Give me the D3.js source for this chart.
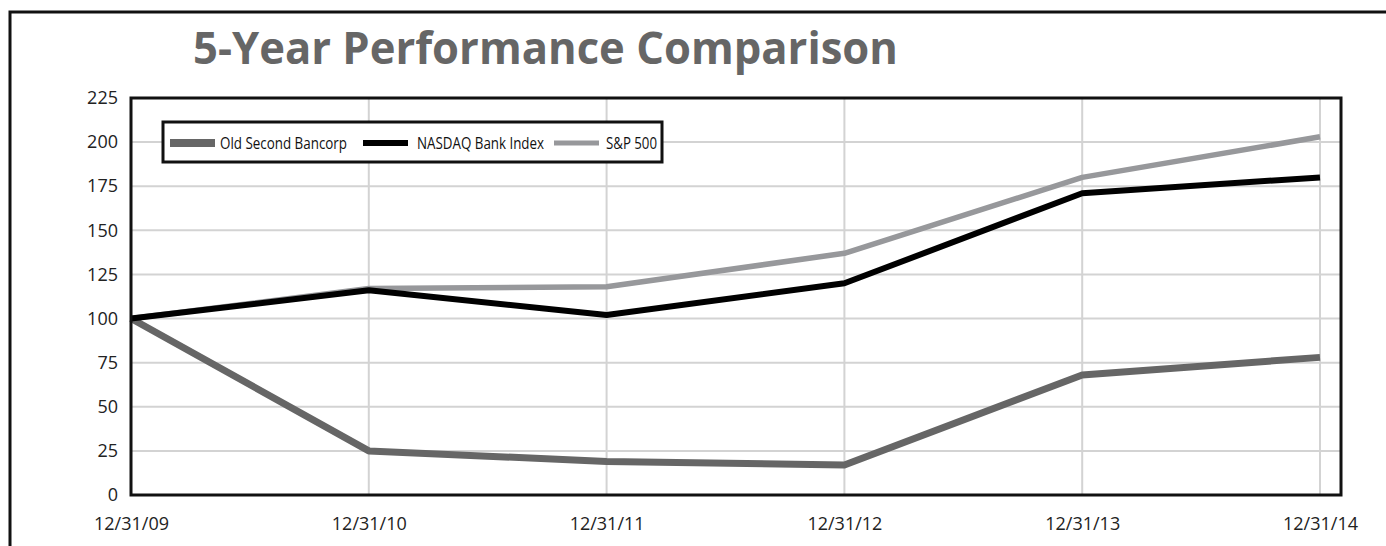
<!DOCTYPE html>
<html>
<head>
<meta charset="utf-8">
<script src="https://cdn.jsdelivr.net/npm/d3@7"></script>
<style>
  body { margin: 0; background: #fff; }
  svg { display: block; }
</style>
</head>
<body>
<div id="chart"></div>
<script>
// data
var dates = ["12/31/09", "12/31/10", "12/31/11", "12/31/12", "12/31/13", "12/31/14"];
var oldSecond = [100, 25, 19, 17, 68, 78];
var nasdaqBank = [100, 116, 102, 120, 171, 180];
var sp500 = [100, 117, 118, 137, 180, 203];
var yTicks = [0, 25, 50, 75, 100, 125, 150, 175, 200, 225];
var seriesNames = ["Old Second Bancorp", "NASDAQ Bank Index", "S&P 500"];

var W = 1386, H = 546;
var plot = { left: 131, right: 1341, top: 98, bottom: 495, lastX: 1320 };

var svg = d3.select("#chart")
  .append("svg")
    .attr("width", W)
    .attr("height", H);

// outer frame (cropped at right / bottom)
svg.append("path")
  .attr("d", "M10," + H + "V12H" + W)
  .attr("fill", "none")
  .attr("stroke", "#111")
  .attr("stroke-width", 3);

svg.append("text")
  .attr("x", 193)
  .attr("y", 64)
  .attr("textLength", 705)
  .attr("lengthAdjust", "spacingAndGlyphs")
  .style("font-family", "'Open Sans', sans-serif")
  .style("font-weight", "bold")
  .style("font-size", "44px")
  .style("fill", "#666")
  .text("5-Year Performance Comparison");

var x = d3.scalePoint()
  .domain(dates)
  .range([plot.left, plot.lastX]);

var y = d3.scaleLinear()
  .domain([0, 225])
  .range([plot.bottom, plot.top]);

// grid
svg.append("g")
  .selectAll("line")
  .data(yTicks.filter(function(d) { return d > 0 && d < 225; }))
  .enter()
  .append("line")
    .attr("x1", plot.left)
    .attr("x2", plot.right)
    .attr("y1", function(d) { return y(d); })
    .attr("y2", function(d) { return y(d); })
    .attr("stroke", "#d3d3d3")
    .attr("stroke-width", 2);

svg.append("g")
  .selectAll("line")
  .data(dates.slice(1))
  .enter()
  .append("line")
    .attr("x1", function(d) { return x(d); })
    .attr("x2", function(d) { return x(d); })
    .attr("y1", plot.top)
    .attr("y2", plot.bottom)
    .attr("stroke", "#d3d3d3")
    .attr("stroke-width", 2);

// axes
var yAxis = svg.append("g")
  .attr("transform", "translate(" + plot.left + ",0)")
  .call(d3.axisLeft(y).tickValues(yTicks).tickSize(0).tickPadding(13));
yAxis.select(".domain").remove();

var xAxis = svg.append("g")
  .attr("transform", "translate(0," + plot.bottom + ")")
  .call(d3.axisBottom(x).tickSize(0).tickPadding(22));
xAxis.select(".domain").remove();

svg.selectAll(".tick text")
  .style("font-family", "'Open Sans', sans-serif")
  .style("font-size", "18px")
  .style("fill", "#222");

// lines
var series = [
  { name: seriesNames[2], values: sp500, color: "#97989b", width: 5.5 },
  { name: seriesNames[0], values: oldSecond, color: "#666666", width: 7 },
  { name: seriesNames[1], values: nasdaqBank, color: "#000000", width: 6 }
];

var line = d3.line()
  .x(function(d, i) { return x(dates[i]); })
  .y(function(d) { return y(d); });

svg.append("g")
  .selectAll("path")
  .data(series)
  .enter()
  .append("path")
    .attr("d", function(d) { return line(d.values); })
    .attr("fill", "none")
    .attr("stroke", function(d) { return d.color; })
    .attr("stroke-width", function(d) { return d.width; })
    .attr("stroke-linejoin", "round");

// plot frame
svg.append("rect")
  .attr("x", plot.left)
  .attr("y", plot.top)
  .attr("width", plot.right - plot.left)
  .attr("height", plot.bottom - plot.top)
  .attr("fill", "none")
  .attr("stroke", "#111")
  .attr("stroke-width", 3);

// legend
var legend = svg.append("g");
legend.append("rect")
  .attr("x", 163)
  .attr("y", 122)
  .attr("width", 499)
  .attr("height", 40)
  .attr("fill", "#fff")
  .attr("stroke", "#111")
  .attr("stroke-width", 3);

var legendItems = [
  { s: series[1], sx: 170, tx: 220, tw: 127, h: 8 },
  { s: series[2], sx: 363, tx: 417, tw: 127, h: 6 },
  { s: series[0], sx: 554, tx: 606, tw: 51, h: 5 }
];

legend.selectAll("rect.sw")
  .data(legendItems)
  .enter()
  .append("rect")
    .attr("class", "sw")
    .attr("x", function(d) { return d.sx; })
    .attr("y", function(d) { return 143 - d.h / 2; })
    .attr("width", 45)
    .attr("height", function(d) { return d.h; })
    .attr("fill", function(d) { return d.s.color; });

legend.selectAll("text")
  .data(legendItems)
  .enter()
  .append("text")
    .attr("x", function(d) { return d.tx; })
    .attr("y", 149)
    .attr("textLength", function(d) { return d.tw; })
    .attr("lengthAdjust", "spacingAndGlyphs")
    .style("font-family", "'Open Sans', sans-serif")
    .style("font-size", "16px")
    .style("fill", "#111")
    .text(function(d) { return d.s.name; });
</script>
</body>
</html>
